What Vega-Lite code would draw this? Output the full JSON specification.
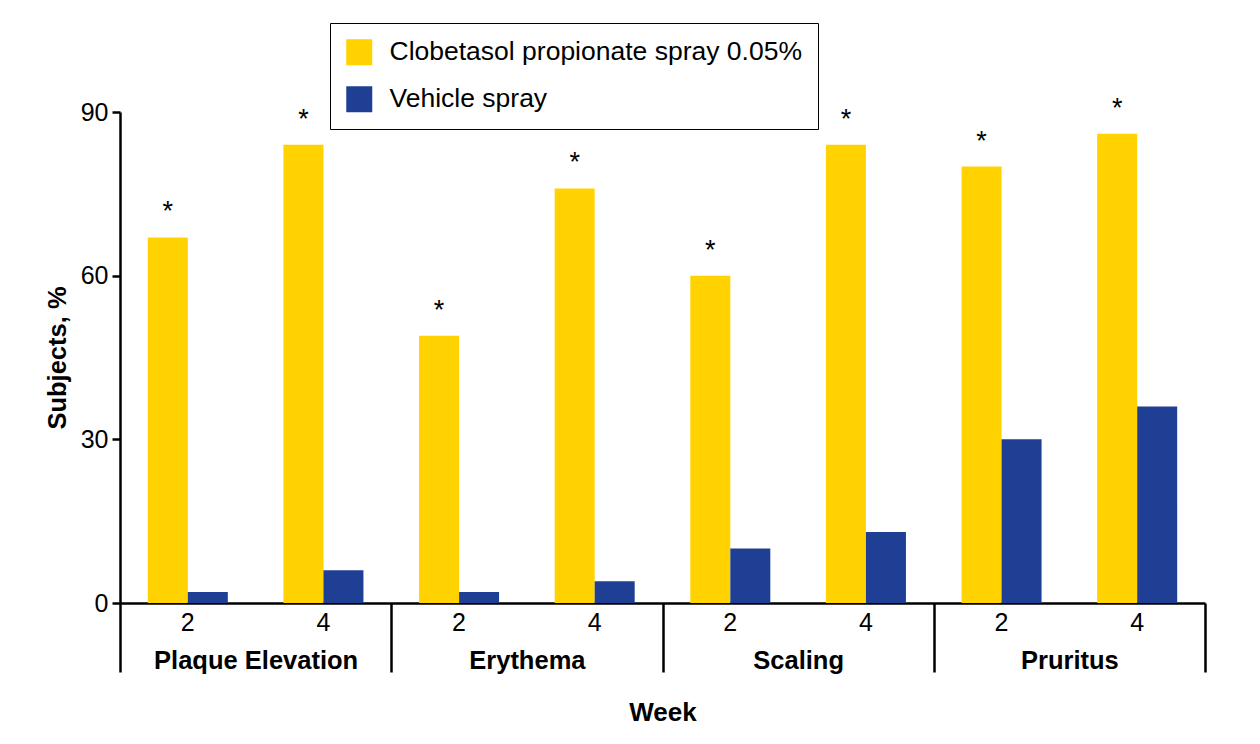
{
  "$schema": "https://vega.github.io/schema/vega-lite/v6.json",
  "autosize": {"type": "none"},
  "width": 1085,
  "height": 491,
  "padding": {"left": 120, "top": 112, "right": 55, "bottom": 141},
  "background": "white",
  "config": {
    "font": "Liberation Sans",
    "view": {"stroke": null},
    "axis": {"labelColor": "black", "titleColor": "black", "domainColor": "black", "tickColor": "black", "grid": false}
  },
  "data": {
    "values": [
      {"cat": "Plaque Elevation", "week": "2", "key": "Plaque Elevation|2", "series": "Clobetasol propionate spray 0.05%", "value": 67},
      {"cat": "Plaque Elevation", "week": "2", "key": "Plaque Elevation|2", "series": "Vehicle spray", "value": 2},
      {"cat": "Plaque Elevation", "week": "4", "key": "Plaque Elevation|4", "series": "Clobetasol propionate spray 0.05%", "value": 84},
      {"cat": "Plaque Elevation", "week": "4", "key": "Plaque Elevation|4", "series": "Vehicle spray", "value": 6},
      {"cat": "Erythema", "week": "2", "key": "Erythema|2", "series": "Clobetasol propionate spray 0.05%", "value": 49},
      {"cat": "Erythema", "week": "2", "key": "Erythema|2", "series": "Vehicle spray", "value": 2},
      {"cat": "Erythema", "week": "4", "key": "Erythema|4", "series": "Clobetasol propionate spray 0.05%", "value": 76},
      {"cat": "Erythema", "week": "4", "key": "Erythema|4", "series": "Vehicle spray", "value": 4},
      {"cat": "Scaling", "week": "2", "key": "Scaling|2", "series": "Clobetasol propionate spray 0.05%", "value": 60},
      {"cat": "Scaling", "week": "2", "key": "Scaling|2", "series": "Vehicle spray", "value": 10},
      {"cat": "Scaling", "week": "4", "key": "Scaling|4", "series": "Clobetasol propionate spray 0.05%", "value": 84},
      {"cat": "Scaling", "week": "4", "key": "Scaling|4", "series": "Vehicle spray", "value": 13},
      {"cat": "Pruritus", "week": "2", "key": "Pruritus|2", "series": "Clobetasol propionate spray 0.05%", "value": 80},
      {"cat": "Pruritus", "week": "2", "key": "Pruritus|2", "series": "Vehicle spray", "value": 30},
      {"cat": "Pruritus", "week": "4", "key": "Pruritus|4", "series": "Clobetasol propionate spray 0.05%", "value": 86},
      {"cat": "Pruritus", "week": "4", "key": "Pruritus|4", "series": "Vehicle spray", "value": 36}
    ]
  },
  "layer": [
    {
      "layer": [
        {
          "mark": {"type": "bar"},
          "encoding": {
            "x": {
              "field": "key", "type": "nominal",
              "scale": {"domain": ["Plaque Elevation|2", "Plaque Elevation|4", "Erythema|2", "Erythema|4", "Scaling|2", "Scaling|4", "Pruritus|2", "Pruritus|4"], "paddingInner": 0, "paddingOuter": 0},
              "axis": {"orient": "bottom", "title": null, "labelExpr": "split(datum.label, '|')[1]", "labelAngle": 0, "labelFontSize": 25, "labelPadding": 7, "ticks": false, "domain": true, "domainWidth": 2.5}
            },
            "xOffset": {
              "field": "series", "type": "nominal",
              "scale": {"domain": ["Clobetasol propionate spray 0.05%", "Vehicle spray"], "paddingInner": 0, "paddingOuter": 0.695}
            },
            "y": {
              "field": "value", "type": "quantitative",
              "scale": {"domain": [0, 90], "nice": false},
              "axis": {"values": [0, 30, 60, 90], "title": "Subjects, %", "titleFontSize": 25.5, "titleFontWeight": "bold", "titlePadding": 10, "labelFontSize": 25, "labelPadding": 4, "tickSize": 8, "tickWidth": 2.5, "domainWidth": 2.5}
            },
            "color": {
              "field": "series", "type": "nominal",
              "scale": {"domain": ["Clobetasol propionate spray 0.05%", "Vehicle spray"], "range": ["#FFD200", "#1E3F94"]},
              "legend": {"title": null, "orient": "none", "legendX": 210, "legendY": -89, "symbolType": "square", "symbolSize": 676, "symbolStrokeWidth": 0, "labelFontSize": 26.5, "labelLimit": 0, "labelColor": "black", "labelOffset": 17, "rowPadding": 20, "padding": 16, "strokeColor": "black", "fillColor": "white"}
            }
          }
        },
        {
          "transform": [{"filter": "datum.series == 'Clobetasol propionate spray 0.05%'"}],
          "mark": {"type": "text", "text": "*", "fontSize": 27, "dy": -17, "baseline": "alphabetic", "color": "black"},
          "encoding": {
            "x": {"field": "key", "type": "nominal"},
            "xOffset": {"field": "series", "type": "nominal"},
            "y": {"field": "value", "type": "quantitative"}
          }
        }
      ]
    },
    {
      "mark": {"type": "tick", "opacity": 0},
      "encoding": {
        "x": {
          "field": "cat", "type": "nominal",
          "scale": {"domain": ["Plaque Elevation", "Erythema", "Scaling", "Pruritus"], "paddingInner": 0, "paddingOuter": 0},
          "axis": {"orient": "bottom", "title": "Week", "titleFontSize": 26, "titleFontWeight": "bold", "titlePadding": 26, "labelAngle": 0, "labelFontSize": 25.5, "labelFontWeight": "bold", "labelLimit": 0, "labelPadding": -24, "tickBand": "extent", "tickSize": 69, "tickWidth": 2.5, "domain": false}
        },
        "y": {"field": "value", "type": "quantitative"}
      }
    }
  ],
  "resolve": {"scale": {"x": "independent"}, "axis": {"x": "independent"}}
}
